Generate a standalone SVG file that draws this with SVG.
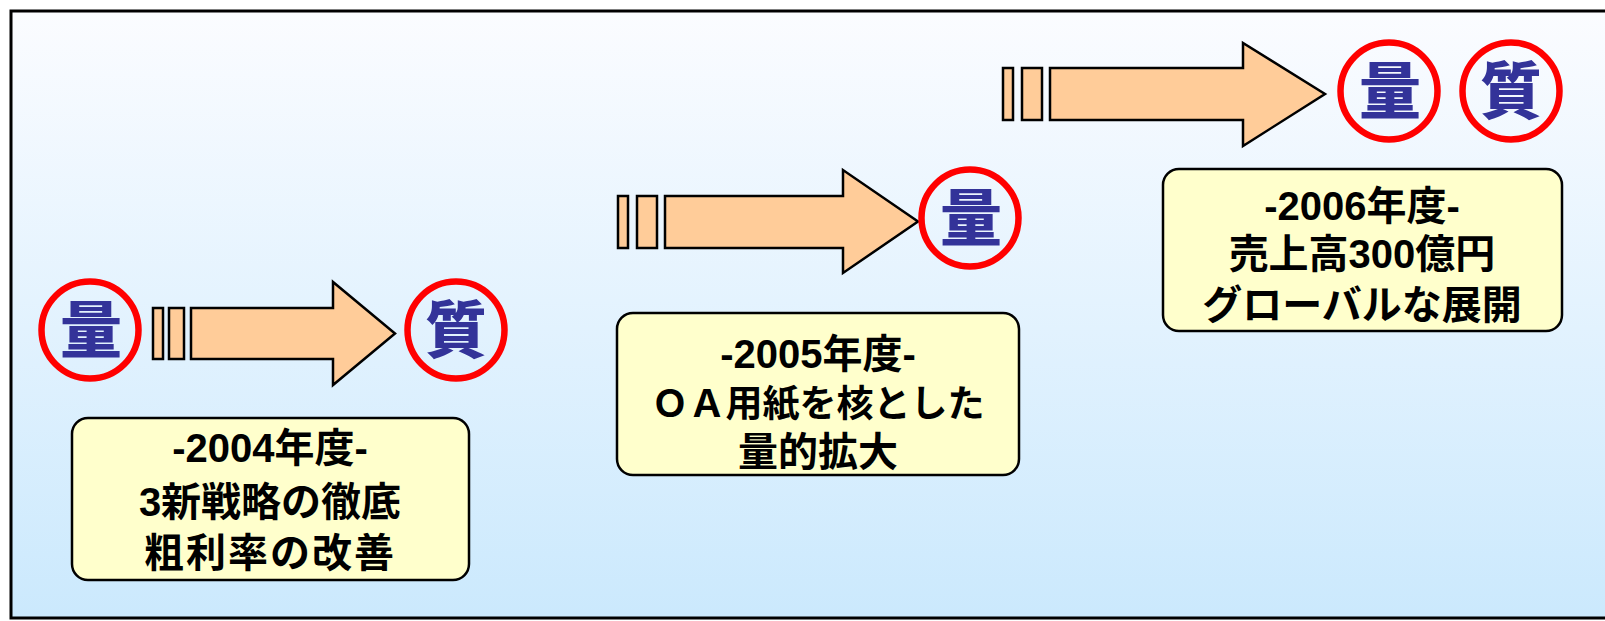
<svg xmlns="http://www.w3.org/2000/svg" width="1605" height="621" viewBox="0 0 1605 621">
<defs>
<linearGradient id="bg" x1="0" y1="0" x2="0" y2="1">
<stop offset="0" stop-color="#fbfcff"/>
<stop offset="1" stop-color="#cbe9fd"/>
</linearGradient>
<style>
.arr{fill:#ffcc99;stroke:#000;stroke-width:2.5;stroke-linejoin:miter}
.ring{fill:none;stroke:#ff0000;stroke-width:6.5}
.mark{font-family:"Noto Sans CJK JP","Noto Sans CJK SC",sans-serif;font-weight:900;font-size:62px;fill:#333399;text-anchor:middle}
.box{fill:#ffffcc;stroke:#000;stroke-width:2.5}
.lbl{font-family:"Liberation Sans","Noto Sans CJK JP","Noto Sans CJK SC",sans-serif;font-weight:700;font-size:40px;fill:#000;text-anchor:middle}
</style>
</defs>
<rect x="0" y="0" width="1605" height="621" fill="#ffffff"/>
<rect id="frame" x="11" y="11" width="1600" height="607" fill="url(#bg)" stroke="#000" stroke-width="3"/>

<g id="connectors">
<g id="arrow1">
<rect class="arr" x="153" y="308" width="10" height="51"/>
<rect class="arr" x="169" y="308" width="15" height="51"/>
<polygon class="arr" points="191,308 333,308 333,282 395,333.5 333,385 333,359 191,359"/>
</g>
<g id="arrow2">
<rect class="arr" x="618" y="196" width="10" height="52"/>
<rect class="arr" x="637" y="196" width="20" height="52"/>
<polygon class="arr" points="665,196 843,196 843,170 918,221.5 843,273 843,248 665,248"/>
</g>
<g id="arrow3">
<rect class="arr" x="1003" y="68" width="10" height="52"/>
<rect class="arr" x="1022" y="68" width="20" height="52"/>
<polygon class="arr" points="1050,68 1243,68 1243,43 1325,94 1243,146 1243,120 1050,120"/>
</g>
</g>

<g id="node-ryo1">
<circle class="ring" cx="90" cy="330" r="48.5"/>
<text class="mark" x="91" y="353">量</text>
</g>
<g id="node-shitsu1">
<circle class="ring" cx="456" cy="330" r="48.5"/>
<text class="mark" x="456" y="353">質</text>
</g>
<g id="node-ryo2">
<circle class="ring" cx="970" cy="218" r="48.5"/>
<text class="mark" x="971" y="241">量</text>
</g>
<g id="node-ryo3">
<circle class="ring" cx="1389" cy="91" r="48.5"/>
<text class="mark" x="1390" y="114">量</text>
</g>
<g id="node-shitsu3">
<circle class="ring" cx="1511" cy="91" r="48.5"/>
<text class="mark" x="1511" y="114">質</text>
</g>

<g id="box2004">
<rect class="box" x="72" y="418" width="397" height="162" rx="16"/>
<text class="lbl"><tspan x="270" y="462">-2004年度-</tspan><tspan x="270" y="516">3新戦略の徹底</tspan><tspan x="270" y="567" letter-spacing="2">粗利率の改善</tspan></text>
</g>
<g id="box2005">
<rect class="box" x="617" y="313" width="402" height="162" rx="16"/>
<text class="lbl"><tspan x="818" y="368">-2005年度-</tspan><tspan x="818" y="417" font-size="37">ＯＡ用紙を核とした</tspan><tspan x="818" y="466">量的拡大</tspan></text>
</g>
<g id="box2006">
<rect class="box" x="1163" y="169" width="399" height="162" rx="16"/>
<text class="lbl"><tspan x="1362" y="220">-2006年度-</tspan><tspan x="1362" y="268">売上高300億円</tspan><tspan x="1362" y="319">グローバルな展開</tspan></text>
</g>
</svg>
